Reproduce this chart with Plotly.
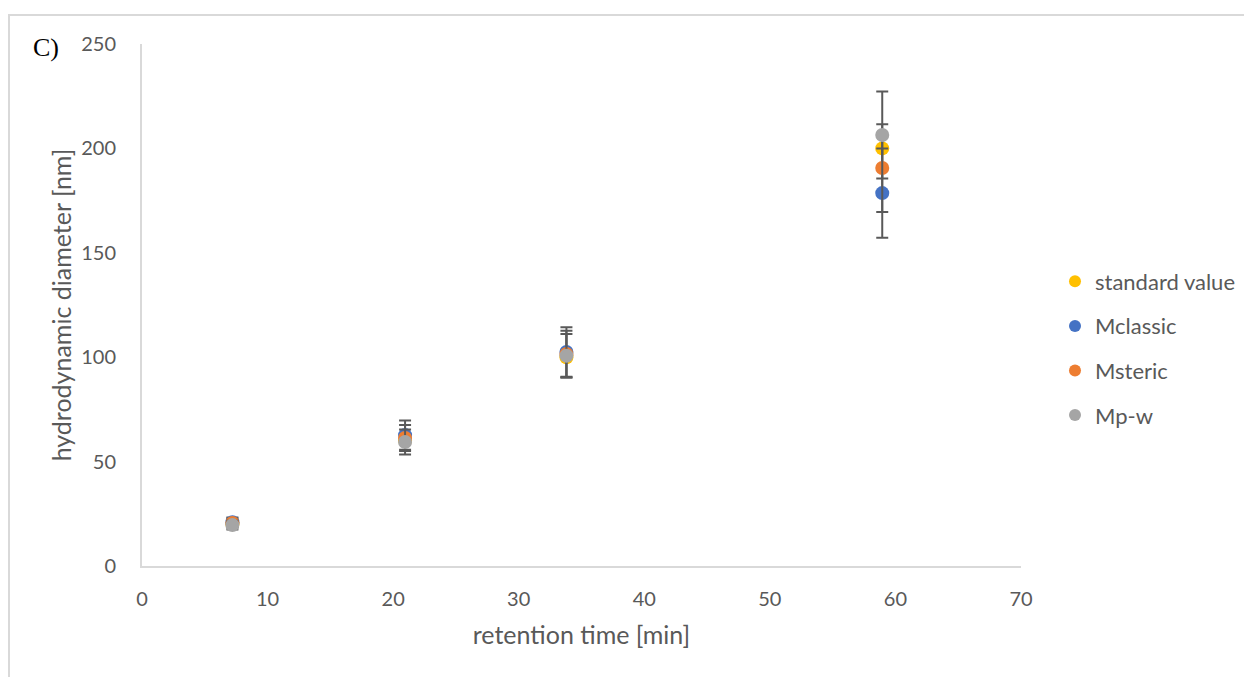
import plotly.graph_objects as go

retention_time = [7.2, 20.95, 33.8, 58.95]
series_names = ["standard value", "Mclassic", "Msteric", "Mp-w"]
standard_value = [20, 60, 100, 200]
m_classic = [21.0, 62.7, 102.5, 178.6]
m_steric = [20.6, 61.3, 101.5, 190.6]
m_pw = [19.6, 59.4, 100.7, 206.4]
err_classic = [2.2, 7.0, 11.9, 21.4]
err_steric = [2.2, 6.2, 11.2, 21.0]
err_pw = [2.1, 6.0, 10.4, 20.8]
colors = ["#FFC000", "#4472C4", "#ED7D31", "#A5A5A5"]
x_ticks = [0, 10, 20, 30, 40, 50, 60, 70]
y_ticks = [0, 50, 100, 150, 200, 250]

values = [standard_value, m_classic, m_steric, m_pw]
errors = [None, err_classic, err_steric, err_pw]

# page body has an 8px offset; figure coords = screen coords - 8
W, H = 1244, 669
L, T, R, B = 134, 36, 1013, 558

fig = go.Figure()
for name, vals, err, col in zip(series_names, values, errors, colors):
    kw = {}
    if err is not None:
        kw["error_y"] = dict(type="data", array=err, visible=True,
                             color="#595959", thickness=2, width=6)
    fig.add_trace(go.Scatter(
        x=retention_time, y=vals, mode="markers", name=name,
        legendgroup=name,
        marker=dict(color=col, size=14, line=dict(width=0)),
        **kw))

font_main = "Lato, 'Open Sans', sans-serif"
pw, ph = R - L, B - T
fig.update_layout(
    width=W, height=H,
    paper_bgcolor="white", plot_bgcolor="white",
    margin=dict(l=L, r=W - R, t=T, b=H - B),
    font=dict(family=font_main, color="#595959", size=20),
    legend=dict(x=(1047 - L) / pw, y=(B - 340.5) / ph, xanchor="left", yanchor="middle",
                font=dict(size=22, color="#595959"),
                tracegroupgap=13, itemsizing="constant"),
    xaxis=dict(range=[0, 70], tickvals=x_ticks, showgrid=False, zeroline=False,
               showline=True, linecolor="#d9d9d9", linewidth=2,
               ticks="outside", ticklen=14, tickcolor="rgba(0,0,0,0)",
               tickfont=dict(size=20),
               title=dict(text="retention time [min]", font=dict(size=25), standoff=17)),
    yaxis=dict(range=[0, 250], tickvals=y_ticks, showgrid=False, zeroline=False,
               showline=True, linecolor="#d9d9d9", linewidth=2,
               ticks="outside", ticklen=20, tickcolor="rgba(0,0,0,0)",
               tickfont=dict(size=20),
               title=dict(text="hydrodynamic diameter [nm]", font=dict(size=25), standoff=2)),
    shapes=[dict(type="rect", xref="paper", yref="paper",
                 x0=(1 - L) / pw, x1=1.6, y0=-0.5, y1=(B - 7) / ph,
                 line=dict(color="#d9d9d9", width=2), layer="below")],
    annotations=[dict(text="C)", xref="paper", yref="paper",
                      x=(23 - L) / pw, y=(B - 39) / ph,
                      xanchor="left", yanchor="middle", showarrow=False,
                      font=dict(family="'Liberation Serif', 'Times New Roman', serif",
                                size=26, color="black"))],
)

fig.write_html("out.html")
